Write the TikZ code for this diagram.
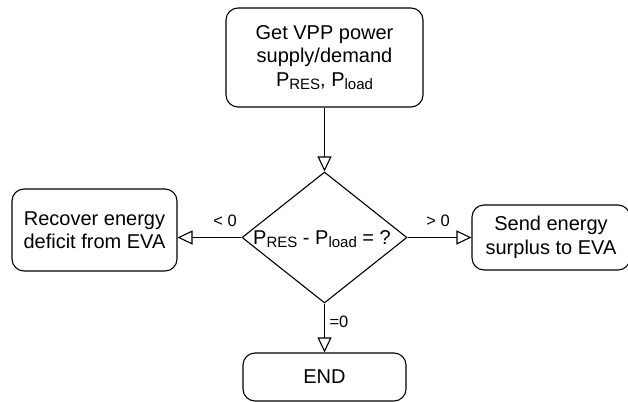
\documentclass[tikz,border=0pt]{standalone}
\usepackage{fontspec}
\setmainfont{Liberation Sans}
\usetikzlibrary{shapes.geometric,arrows.meta}
\newcommand{\lowtxt}[1]{\raisebox{-0.35ex}{\fontsize{15}{15}\selectfont #1}}
\tikzset{
  stepbox/.style={draw, rounded corners=12pt, line width=1.1pt, inner sep=0pt,
    align=center, font=\fontsize{20}{23.5}\selectfont},
  decision/.style={draw, diamond, line width=1.1pt, inner sep=0pt,
    minimum width=165pt, minimum height=131pt},
  edgelabel/.style={font=\fontsize{16.5}{18}\selectfont, inner sep=0pt},
  flow/.style={line width=1.1pt, -{Triangle[open, length=15pt, width=14pt]}}
}
\begin{document}
\begin{tikzpicture}[x=1pt, y=-1pt]
  \useasboundingbox (0,0) rectangle (628,401);
  \clip (0,0) rectangle (628,401);
  \node[stepbox, minimum width=197pt, minimum height=99pt] (get) at (324.5,57.5)
    {Get VPP power\\supply/demand\\P\lowtxt{RES}, P\lowtxt{load}};
  \node[decision] (diam) at (324.5,237.5) {};
  \node[font=\fontsize{20}{23.5}\selectfont, inner sep=0pt] (cond) at (322,239)
    {P\lowtxt{RES} - P\lowtxt{load} = ?};
  \node[stepbox, minimum width=165pt, minimum height=82pt] (recover) at (94.5,230)
    {Recover energy\\deficit from EVA};
  \node[stepbox, minimum width=158pt, minimum height=65pt] (send) at (551,237.5)
    {Send energy\\surplus to EVA};
  \node[stepbox, minimum width=163pt, minimum height=48pt] (end) at (324.5,377)
    {END};
  \draw[flow] (get) -- (diam.north);
  \draw[flow] (diam.west) -- (diam.west -| recover.east);
  \draw[flow] (diam.east) -- (diam.east -| send.west);
  \draw[flow] (diam.south) -- (end);
  \node[edgelabel] (lt) at (225,221) {< 0};
  \node[edgelabel] (gt) at (438,221) {> 0};
  \node[edgelabel] (eq) at (339,322) {=0};
\end{tikzpicture}
\end{document}
